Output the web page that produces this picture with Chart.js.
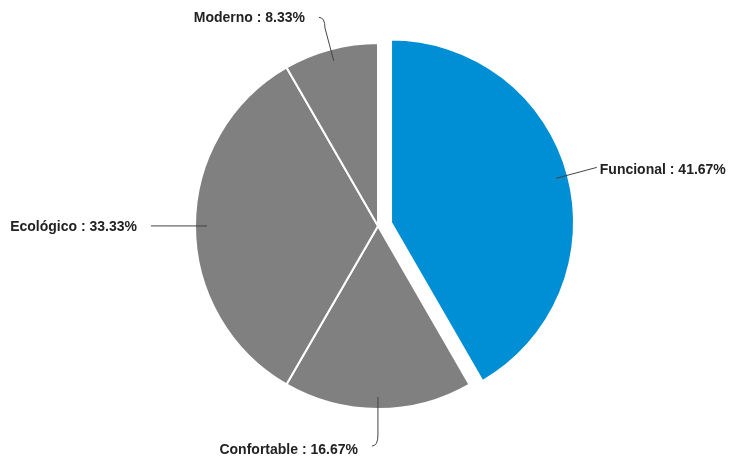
<!DOCTYPE html>
<html>
<head>
<meta charset="utf-8">
<script src="https://cdn.jsdelivr.net/npm/chart.js@4"></script>
<style>
  html, body { margin: 0; padding: 0; background: #fff; }
  #wrap { width: 738px; height: 458px; }
</style>
</head>
<body>
<div id="wrap"><canvas id="pieChart"></canvas></div>
<script>
// data
const categories = ["Funcional", "Confortable", "Ecológico", "Moderno"];
const percentages = [41.67, 16.67, 33.33, 8.33];
const sliceColors = ["#008fd4", "#808080", "#808080", "#808080"];
const explode = [13.5, 0, 0, 0];

// pull slices out without enlarging them (chart.js offset also grows the radius)
const explodeSlices = {
  id: "explodeSlices",
  afterUpdate(chart) {
    const baseDraw = Chart.ArcElement.prototype.draw;
    chart.getDatasetMeta(0).data.forEach((arc, i) => {
      if (!explode[i]) return;
      arc.draw = function (ctx) {
        const mid = (this.startAngle + this.endAngle) / 2;
        ctx.save();
        ctx.translate(Math.cos(mid) * explode[i], Math.sin(mid) * explode[i]);
        baseDraw.call(this, ctx);
        ctx.restore();
      };
    });
  }
};

// outside labels with leader lines
const leaderLabels = {
  id: "leaderLabels",
  afterDatasetsDraw(chart, args, opts) {
    const ctx = chart.ctx;
    const meta = chart.getDatasetMeta(0);
    ctx.save();
    ctx.font = "bold 14px 'Liberation Sans', Arial, sans-serif";
    ctx.fillStyle = "#222";
    ctx.strokeStyle = "#444";
    ctx.lineWidth = 1;
    meta.data.forEach((arc, i) => {
      const p = arc.getProps(["x", "y", "startAngle", "endAngle", "outerRadius"], true);
      const mid = (p.startAngle + p.endAngle) / 2;
      const dx = Math.cos(mid), dy = Math.sin(mid);
      const r = p.outerRadius;
      const ext = opts.ext[i];
      const cx = p.x + dx * explode[i], cy = p.y + dy * explode[i];
      const x0 = cx + dx * (r - 12), y0 = cy + dy * (r - 12);
      const x1 = cx + dx * (r + ext), y1 = cy + dy * (r + ext);
      const text = categories[i] + " : " + percentages[i].toFixed(2) + "%";
      ctx.beginPath();
      ctx.moveTo(x0, y0);
      ctx.lineTo(x1, y1);
      if (Math.abs(dx) < 0.5) {
        // hook toward the text
        const x2 = x1 - 6, y2 = y1 + dy * 11;
        ctx.quadraticCurveTo(x1, y2, x2, y2);
        ctx.stroke();
        ctx.textAlign = "right";
        ctx.textBaseline = "middle";
        ctx.fillText(text, x2 - 14, y2 + 2.5 + 1.5 * dy);
      } else {
        ctx.stroke();
        ctx.textAlign = dx > 0 ? "left" : "right";
        ctx.textBaseline = "middle";
        ctx.fillText(text, x1 + (dx > 0 ? 3 : -14), y1 + (dx > 0 ? 3 : 1));
      }
    });
    ctx.restore();
  }
};

const ctx = document.getElementById("pieChart").getContext("2d");
const pieChart = new Chart(ctx, {
  type: "pie",
  data: {
    labels: categories,
    datasets: [
      {
        data: percentages,
        backgroundColor: sliceColors,
        borderColor: "#fff",
        borderWidth: 2,
        radius: 183,
      },
    ],
  },
  options: {
    responsive: true,
    maintainAspectRatio: false,
    animation: false,
    layout: { padding: { left: 18, right: 0, top: 0, bottom: 6 } },
    plugins: {
      legend: { display: false },
      tooltip: { enabled: false },
      leaderLabels: { ext: [30, 26, 44, 22] },
    },
  },
  plugins: [explodeSlices, leaderLabels],
});
</script>
</body>
</html>
